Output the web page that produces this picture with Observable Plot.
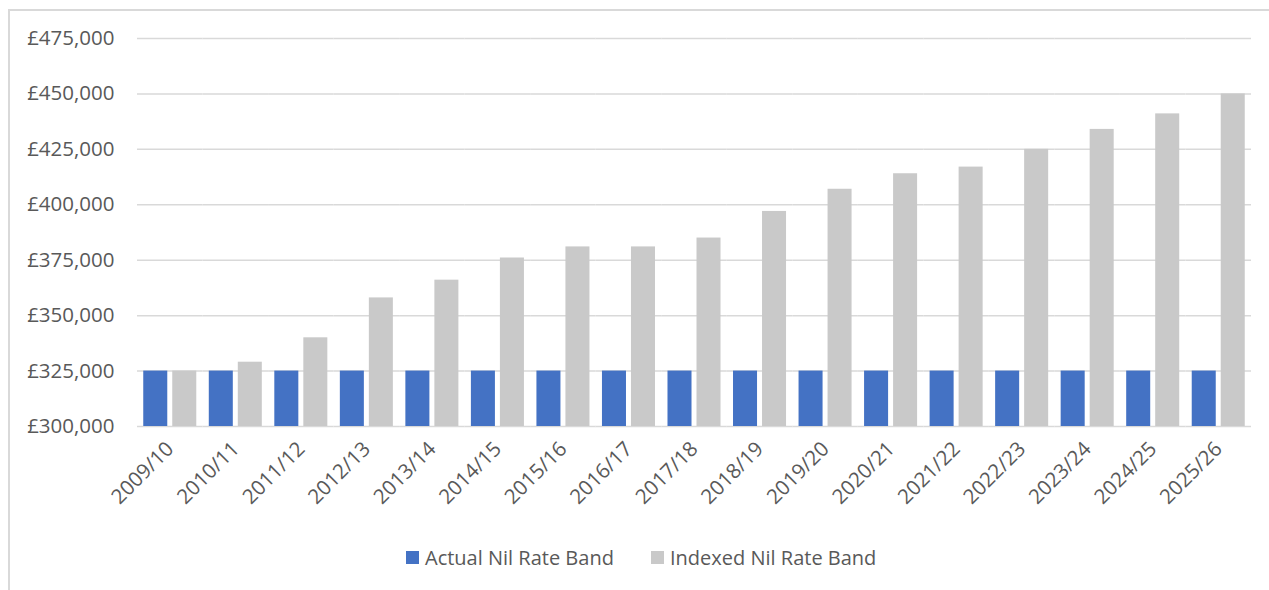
<!DOCTYPE html>
<html><head><meta charset="utf-8">
<script src="https://cdn.jsdelivr.net/npm/d3@7"></script>
<script src="https://cdn.jsdelivr.net/npm/@observablehq/plot@0.6"></script>
<style>
body{margin:0;background:#fff;font-family:"Open Sans",sans-serif;width:1269px;height:590px;overflow:hidden;position:relative;}
#frame{position:absolute;left:8px;top:9px;width:1261px;height:581px;border-top:2px solid #d9d9d9;border-left:2px solid #d9d9d9;box-sizing:border-box;}
#chart{position:absolute;left:10px;top:11px;}
.item{position:absolute;top:544px;display:flex;align-items:center;font-size:20px;color:#595959;white-space:nowrap;}
.sw{width:13px;height:13px;margin-right:6px;}
</style></head>
<body>
<div id="frame"></div>
<div id="chart"></div>
<div class="item" id="leg0" style="left:406px"></div>
<div class="item" id="leg1" style="left:651px"></div>
<script>
const years = ["2009/10","2010/11","2011/12","2012/13","2013/14","2014/15","2015/16","2016/17","2017/18","2018/19","2019/20","2020/21","2021/22","2022/23","2023/24","2024/25","2025/26"];
const actualNRB = [325000,325000,325000,325000,325000,325000,325000,325000,325000,325000,325000,325000,325000,325000,325000,325000,325000];
const indexedNRB = [325000,329000,340000,358000,366000,376000,381000,381000,385000,397000,407000,414000,417000,425000,434000,441000,450000];
const seriesNames = ["Actual Nil Rate Band","Indexed Nil Rate Band"];
const seriesColors = ["#4472C4","#C9C9C9"];
const yTicks = [300000,325000,350000,375000,400000,425000,450000,475000];
const baseline = 300000;

const rows = years.flatMap((yr, i) => [
  {year: yr, series: seriesNames[0], value: actualNRB[i]},
  {year: yr, series: seriesNames[1], value: indexedNRB[i]}
]);

const fmt = d3.format(",");
const chart = Plot.plot({
  width: 1259,
  height: 510,
  marginLeft: 127,
  marginRight: 18,
  marginTop: 27,
  marginBottom: 95,
  style: {fontFamily: "'Open Sans', sans-serif", fontSize: "20.5px", color: "#595959", background: "transparent", overflow: "visible"},
  facet: {data: rows, x: "year", marginTop: 0, marginBottom: 0, marginLeft: 0, marginRight: 0},
  fx: {domain: years, padding: 0, round: false, label: null, axis: "bottom", tickSize: 0, tickPadding: 19, tickRotate: -45},
  x: {domain: seriesNames, axis: null, round: false, paddingInner: 0.172, paddingOuter: 0.2155},
  y: {domain: [300000, 475000], ticks: yTicks, tickFormat: d => "£" + fmt(d), tickSize: 0, tickPadding: 23, label: null},
  color: {domain: seriesNames, range: seriesColors},
  marks: [
    Plot.ruleY(yTicks, {stroke: "#d9d9d9", strokeWidth: 1.5}),
    Plot.barY(rows, {x: "series", y1: baseline, y2: "value", fill: "series"})
  ]
});
document.getElementById("chart").appendChild(chart);

seriesNames.forEach((name, i) => {
  const el = document.getElementById("leg" + i);
  const sw = document.createElement("span");
  sw.className = "sw";
  sw.style.background = seriesColors[i];
  el.appendChild(sw);
  el.appendChild(document.createTextNode(name));
});
</script>
</body></html>
